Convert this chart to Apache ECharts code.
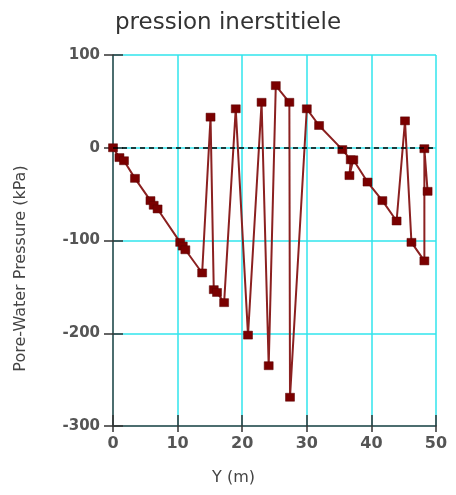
<!DOCTYPE html>
<html><head><meta charset="utf-8">
<script src="https://cdn.jsdelivr.net/npm/echarts@6/dist/echarts.min.js"></script>
<style>html,body{margin:0;padding:0;background:#fff}#c{width:456px;height:495px}</style>
</head><body><div id="c"></div>
<script>
var titleText = 'pression inerstitiele';
var xName = 'Y (m)';
var yName = 'Pore-Water Pressure (kPa)';
var yPos = [0, 1.0, 1.7, 3.4, 5.8, 6.3, 6.9, 10.4, 10.8, 11.2, 13.8, 15.1, 15.6, 16.1, 17.2, 19.0, 20.9, 23.0, 24.1, 25.2, 27.3, 27.4, 30.0, 31.9, 35.5, 36.8, 36.6, 37.2, 39.4, 41.7, 43.9, 45.2, 46.2, 48.2, 48.2, 48.7];
var pressure = [0, -10.6, -14, -33, -57, -62, -66, -102, -106, -110, -135, 33, -153, -156, -167, 42, -202, 49, -235, 67, 49, -269, 42, 24, -2, -13, -30, -13, -37, -57, -79, 29, -102, -122, -1, -47];
var data = yPos.map(function(x, i){ return [x, pressure[i]]; });

var chart = echarts.init(document.getElementById('c'));
var font = 'DejaVu Sans, Verdana, sans-serif';
var tickStyle = { color: '#333', width: 1.5 };
chart.setOption({
  animation: false,
  title: { text: titleText, left: 'center', top: 7, textStyle: { fontFamily: font, fontSize: 23, fontWeight: 'normal', color: '#333' } },
  grid: { left: 113, right: 20, top: 55, bottom: 69 },
  xAxis: [{
    type: 'value', min: 0, max: 50, interval: 10,
    name: xName, nameLocation: 'middle', nameGap: 44,
    nameTextStyle: { fontFamily: font, fontSize: 16, color: '#444', padding: [0, 82, 0, 0] },
    axisLine: { show: true, onZero: false, lineStyle: { color: '#444', width: 1.5 } },
    axisTick: { show: true, length: 6, lineStyle: tickStyle },
    axisLabel: { fontFamily: font, fontSize: 16, color: '#555', fontWeight: 'bold', margin: 10 },
    splitLine: { show: true, lineStyle: { color: '#30e4ec', width: 1.5 } }
  }, {
    type: 'value', min: 0, max: 50, interval: 10, position: 'bottom',
    axisLine: { show: false, onZero: false },
    axisTick: { show: true, inside: true, length: 11, lineStyle: tickStyle },
    axisLabel: { show: false }, splitLine: { show: false }
  }],
  yAxis: [{
    type: 'value', min: -300, max: 100, interval: 100,
    name: yName, nameLocation: 'middle', nameGap: 84, nameRotate: 90,
    nameTextStyle: { fontFamily: font, fontSize: 16, color: '#444', padding: [0, 56, 0, 0] },
    axisLine: { show: true, onZero: false, lineStyle: { color: '#444', width: 1.5 } },
    axisTick: { show: true, length: 9, lineStyle: tickStyle },
    axisLabel: { fontFamily: font, fontSize: 15, color: '#555', fontWeight: 'bold', margin: 13 },
    splitLine: { show: true, lineStyle: { color: '#30e4ec', width: 1.5 } }
  }, {
    type: 'value', min: -300, max: 100, interval: 100, position: 'left',
    axisLine: { show: false, onZero: false },
    axisTick: { show: true, inside: true, length: 10, lineStyle: tickStyle },
    axisLabel: { show: false }, splitLine: { show: false }
  }],
  series: [{
    type: 'line', data: data, xAxisIndex: 0, yAxisIndex: 0,
    symbol: 'rect', symbolSize: [9, 8],
    itemStyle: { color: '#7a0000', borderColor: '#5a0000', borderWidth: 0.5 },
    lineStyle: { color: '#8b2020', width: 2 },
    markLine: {
      silent: true, symbol: 'none', label: { show: false },
      lineStyle: { color: '#000', type: [5, 4], width: 1.5 },
      data: [{ yAxis: 0 }]
    },
    z: 3
  }]
});
</script></body></html>
